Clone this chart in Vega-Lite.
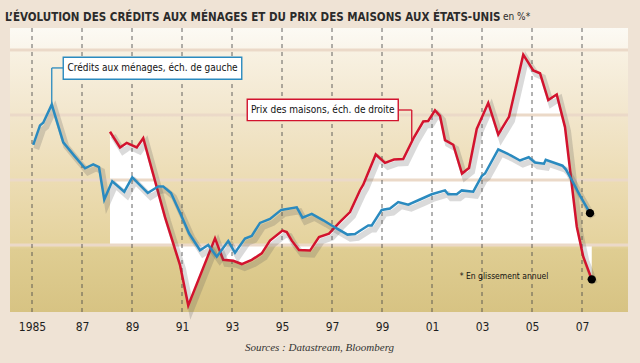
{
  "$schema": "https://vega.github.io/schema/vega-lite/v6.json",
  "width": 618,
  "height": 284,
  "autosize": {"type": "none"},
  "padding": {"left": 10, "top": 28, "right": 12, "bottom": 51},
  "background": "#efe3d5",
  "config": {"view": {"stroke": null}, "font": "DejaVu Sans Condensed, Liberation Sans, sans-serif"},
  "title": {
    "text": "L’ÉVOLUTION DES CRÉDITS AUX MÉNAGES ET DU PRIX DES MAISONS AUX ÉTATS-UNIS",
    "anchor": "start",
    "frame": "group",
    "dx": -5,
    "offset": -20,
    "baseline": "alphabetic",
    "font": "DejaVu Sans Condensed, Liberation Sans, sans-serif",
    "fontSize": 11.5,
    "fontWeight": "bold",
    "color": "#2b2b2b"
  },
  "datasets": {
    "credit": [
      {"year": 1985.05, "value": 12.7}, {"year": 1985.32, "value": 14.2}, {"year": 1985.45, "value": 14.4},
      {"year": 1985.79, "value": 15.8}, {"year": 1986.25, "value": 12.9}, {"year": 1986.72, "value": 11.8},
      {"year": 1987.12, "value": 10.9}, {"year": 1987.45, "value": 11.2}, {"year": 1987.68, "value": 11.0},
      {"year": 1987.89, "value": 8.5}, {"year": 1988.21, "value": 9.9}, {"year": 1988.69, "value": 9.1},
      {"year": 1989.01, "value": 10.2}, {"year": 1989.63, "value": 9.0}, {"year": 1990.05, "value": 9.5},
      {"year": 1990.25, "value": 9.5}, {"year": 1990.56, "value": 9.0}, {"year": 1990.94, "value": 7.4},
      {"year": 1991.28, "value": 5.9}, {"year": 1991.72, "value": 4.6}, {"year": 1992.05, "value": 5.0},
      {"year": 1992.39, "value": 4.1}, {"year": 1992.85, "value": 5.3}, {"year": 1993.12, "value": 4.4},
      {"year": 1993.52, "value": 5.5}, {"year": 1993.79, "value": 5.7}, {"year": 1994.12, "value": 6.7},
      {"year": 1994.52, "value": 7.0}, {"year": 1994.97, "value": 7.7}, {"year": 1995.59, "value": 7.9},
      {"year": 1995.82, "value": 7.1}, {"year": 1996.19, "value": 7.4}, {"year": 1996.65, "value": 6.9},
      {"year": 1997.12, "value": 6.35}, {"year": 1997.62, "value": 5.8}, {"year": 1997.92, "value": 5.85},
      {"year": 1998.12, "value": 6.1}, {"year": 1998.45, "value": 6.5}, {"year": 1998.59, "value": 6.5},
      {"year": 1998.99, "value": 7.7}, {"year": 1999.32, "value": 7.8}, {"year": 1999.65, "value": 8.3},
      {"year": 2000.05, "value": 8.1}, {"year": 2000.52, "value": 8.5}, {"year": 2000.99, "value": 8.9},
      {"year": 2001.52, "value": 9.2}, {"year": 2001.65, "value": 8.9}, {"year": 2001.99, "value": 8.9},
      {"year": 2002.19, "value": 9.2}, {"year": 2002.65, "value": 9.1}, {"year": 2002.99, "value": 10.3},
      {"year": 2003.12, "value": 10.5}, {"year": 2003.65, "value": 12.35}, {"year": 2004.15, "value": 11.9},
      {"year": 2004.52, "value": 11.5}, {"year": 2004.87, "value": 11.75}, {"year": 2005.12, "value": 11.35},
      {"year": 2005.48, "value": 11.25}, {"year": 2005.55, "value": 11.55}, {"year": 2006.22, "value": 11.1},
      {"year": 2006.36, "value": 10.8}, {"year": 2006.59, "value": 10.0}, {"year": 2006.92, "value": 8.8},
      {"year": 2007.32, "value": 7.45}
    ],
    "house": [
      {"year": 1988.12, "value": 12.2}, {"year": 1988.52, "value": 10.5}, {"year": 1988.79, "value": 11.0},
      {"year": 1989.19, "value": 10.5}, {"year": 1989.45, "value": 11.5}, {"year": 1990.32, "value": 3.0},
      {"year": 1990.92, "value": -2.15}, {"year": 1991.25, "value": -6.5}, {"year": 1992.32, "value": 0.72},
      {"year": 1992.65, "value": -1.6}, {"year": 1993.05, "value": -1.7}, {"year": 1993.39, "value": -2.05},
      {"year": 1993.79, "value": -1.6}, {"year": 1994.19, "value": -0.9}, {"year": 1994.52, "value": 0.47},
      {"year": 1995.02, "value": 1.55}, {"year": 1995.19, "value": 1.4}, {"year": 1995.39, "value": 0.47},
      {"year": 1995.68, "value": -0.54}, {"year": 1996.12, "value": -0.6}, {"year": 1996.48, "value": 0.85},
      {"year": 1996.88, "value": 1.23}, {"year": 1997.32, "value": 2.5}, {"year": 1997.72, "value": 3.55},
      {"year": 1998.12, "value": 5.9}, {"year": 1998.25, "value": 6.5}, {"year": 1998.75, "value": 9.75},
      {"year": 1999.12, "value": 8.85}, {"year": 1999.48, "value": 9.2}, {"year": 1999.85, "value": 9.25},
      {"year": 2000.28, "value": 11.6}, {"year": 2000.65, "value": 13.3}, {"year": 2000.85, "value": 13.35},
      {"year": 2001.12, "value": 14.5}, {"year": 2001.32, "value": 13.9}, {"year": 2001.52, "value": 11.3},
      {"year": 2001.85, "value": 10.8}, {"year": 2002.2, "value": 7.7}, {"year": 2002.48, "value": 8.3},
      {"year": 2002.79, "value": 12.5}, {"year": 2003.25, "value": 15.3}, {"year": 2003.65, "value": 11.9},
      {"year": 2004.08, "value": 13.8}, {"year": 2004.65, "value": 20.5}, {"year": 2005.05, "value": 18.8},
      {"year": 2005.32, "value": 18.5}, {"year": 2005.65, "value": 15.6}, {"year": 2005.99, "value": 16.2},
      {"year": 2006.32, "value": 12.7}, {"year": 2006.79, "value": 2.0}, {"year": 2007.05, "value": -1.26},
      {"year": 2007.39, "value": -3.7}
    ]
  },
  "layer": [
    {
      "layer": [
        {
          "data": {"values": [{}]},
          "mark": {
            "type": "rect",
            "fill": {
              "gradient": "linear", "x1": 0, "y1": 0, "x2": 0, "y2": 1,
              "stops": [
                {"offset": 0, "color": "#fcfaf4"},
                {"offset": 0.077, "color": "#faf5ea"},
                {"offset": 0.085, "color": "#f8f1e2"},
                {"offset": 0.31, "color": "#f2e6cc"},
                {"offset": 0.54, "color": "#ecdcb3"},
                {"offset": 0.77, "color": "#e4d29c"},
                {"offset": 0.78, "color": "#dfcd92"},
                {"offset": 1, "color": "#d7c383"}
              ]
            }
          },
          "encoding": {
            "x": {
              "datum": 1984.12, "type": "quantitative",
              "scale": {"domain": [1984.12, 2008.84], "nice": false, "zero": false},
              "axis": {
                "values": [1985, 1987, 1989, 1991, 1993, 1995, 1997, 1999, 2001, 2003, 2005, 2007],
                "labelExpr": "datum.value == 1985 ? '1985' : slice(toString(datum.value), 2)",
                "grid": false, "domain": false, "ticks": false, "tickSize": 0,
                "labelPadding": 9, "labelFlush": false, "labelOverlap": false,
                "labelFont": "DejaVu Sans Condensed, Liberation Sans, sans-serif", "labelFontSize": 12, "labelColor": "#1e1e1e",
                "title": "Sources : Datastream, Bloomberg",
                "titleFont": "Liberation Serif", "titleFontStyle": "italic", "titleFontWeight": "normal",
                "titleFontSize": 11, "titleColor": "#333333", "titlePadding": 9
              }
            },
            "x2": {"datum": 2008.84},
            "y": {
              "datum": -7.215, "type": "quantitative",
              "scale": {"domain": [-7.215, 23.37], "nice": false, "zero": false},
              "axis": {
                "orient": "right", "values": [-7, 0, 7, 14, 21], "title": null,
                "grid": false, "domain": false, "ticks": false, "tickSize": 0,
                "labelAlign": "center", "labelPadding": -15, "labelBaseline": "bottom", "labelOffset": -3,
                "labelFlush": false, "labelOverlap": false,
                "labelFont": "DejaVu Sans Condensed, Liberation Sans, sans-serif", "labelFontSize": 12, "labelColor": "#1e1e1e"
              }
            },
            "y2": {"datum": 23.37}
          }
        },
        {
          "data": {"name": "house"},
          "mark": {"type": "area", "fill": "#ffffff", "opacity": 1},
          "encoding": {
            "x": {"field": "year", "type": "quantitative"},
            "y": {"field": "value", "type": "quantitative"},
            "y2": {"datum": 0}
          }
        },
        {
          "data": {"values": [{"v": 0}, {"v": 7}, {"v": 14}, {"v": 21}]},
          "mark": {"type": "rule", "color": "#ebd9c8", "strokeWidth": 3},
          "encoding": {"y": {"field": "v", "type": "quantitative"}}
        },
        {
          "data": {"values": [{"yr": 1985}, {"yr": 1987}, {"yr": 1989}, {"yr": 1991}, {"yr": 1993}, {"yr": 1995}, {"yr": 1997}, {"yr": 1999}, {"yr": 2001}, {"yr": 2003}, {"yr": 2005}, {"yr": 2007}]},
          "mark": {"type": "rule", "color": "#4a4a4a", "strokeWidth": 1, "strokeDash": [4, 4], "opacity": 0.85},
          "encoding": {"x": {"field": "yr", "type": "quantitative"}}
        },
        {
          "data": {"name": "house"},
          "mark": {"type": "line", "stroke": "#555555", "strokeWidth": 6, "opacity": 0.22, "xOffset": 3, "yOffset": 4},
          "encoding": {
            "x": {"field": "year", "type": "quantitative"},
            "y": {"field": "value", "type": "quantitative"}
          }
        },
        {
          "data": {"name": "house"},
          "mark": {"type": "line", "stroke": "#d2132e", "strokeWidth": 2.5},
          "encoding": {
            "x": {"field": "year", "type": "quantitative"},
            "y": {"field": "value", "type": "quantitative"}
          }
        },
        {
          "data": {"name": "house"},
          "transform": [{"filter": "datum.year > 2007.3"}],
          "mark": {"type": "point", "filled": true, "fill": "#000000", "opacity": 1, "size": 70},
          "encoding": {
            "x": {"field": "year", "type": "quantitative"},
            "y": {"field": "value", "type": "quantitative"}
          }
        },
        {
          "data": {"values": [{"x1": 1999.65, "x2": 2000.19, "y1": 14.54, "y2": 14.54}, {"x1": 2000.19, "x2": 2000.19, "y1": 11.2, "y2": 14.54}]},
          "mark": {"type": "rule", "color": "#d2132e", "strokeWidth": 1.3},
          "encoding": {
            "x": {"field": "x1", "type": "quantitative"}, "x2": {"field": "x2"},
            "y": {"field": "y1", "type": "quantitative"}, "y2": {"field": "y2"}
          }
        },
        {
          "data": {"values": [{"x1": 1993.61, "x2": 1999.65, "y1": 13.39, "y2": 15.69}]},
          "mark": {"type": "rect", "fill": "#ffffff", "stroke": "#d2132e", "strokeWidth": 1.4},
          "encoding": {
            "x": {"field": "x1", "type": "quantitative"}, "x2": {"field": "x2"},
            "y": {"field": "y1", "type": "quantitative"}, "y2": {"field": "y2"}
          }
        },
        {
          "data": {"values": [{"x": 1996.63, "y": 14.54, "t": "Prix des maisons, éch. de droite"}]},
          "mark": {"type": "text", "font": "DejaVu Sans Condensed, Liberation Sans, sans-serif", "fontSize": 10, "color": "#111111", "align": "center", "baseline": "middle"},
          "encoding": {
            "x": {"field": "x", "type": "quantitative"},
            "y": {"field": "y", "type": "quantitative"},
            "text": {"field": "t"}
          }
        }
      ]
    },
    {
      "layer": [
        {
          "data": {"name": "credit"},
          "mark": {"type": "line", "stroke": "#555555", "strokeWidth": 6, "opacity": 0.22, "xOffset": 3, "yOffset": 4},
          "encoding": {
            "x": {"field": "year", "type": "quantitative"},
            "y": {
              "field": "value", "type": "quantitative",
              "scale": {"domain": [-0.154, 21.692], "nice": false, "zero": false},
              "axis": {
                "orient": "left", "values": [0, 5, 10, 15, 20], "title": null,
                "grid": false, "domain": false, "ticks": false, "tickSize": 0,
                "labelAlign": "right", "labelPadding": -15, "labelBaseline": "bottom", "labelOffset": -3,
                "labelFlush": false, "labelOverlap": false,
                "labelFont": "DejaVu Sans Condensed, Liberation Sans, sans-serif", "labelFontSize": 12, "labelColor": "#1e1e1e"
              }
            }
          }
        },
        {
          "data": {"name": "credit"},
          "mark": {"type": "line", "stroke": "#2a8abf", "strokeWidth": 2.5},
          "encoding": {
            "x": {"field": "year", "type": "quantitative"},
            "y": {"field": "value", "type": "quantitative"}
          }
        },
        {
          "data": {"name": "credit"},
          "transform": [{"filter": "datum.year > 2007.3"}],
          "mark": {"type": "point", "filled": true, "fill": "#000000", "opacity": 1, "size": 70},
          "encoding": {
            "x": {"field": "year", "type": "quantitative"},
            "y": {"field": "value", "type": "quantitative"}
          }
        },
        {
          "data": {"values": [{"x1": 1985.79, "x2": 1986.25, "y1": 18.62, "y2": 18.62}, {"x1": 1985.79, "x2": 1985.79, "y1": 15.8, "y2": 18.62}]},
          "mark": {"type": "rule", "color": "#2a8abf", "strokeWidth": 1.3},
          "encoding": {
            "x": {"field": "x1", "type": "quantitative"}, "x2": {"field": "x2"},
            "y": {"field": "y1", "type": "quantitative"}, "y2": {"field": "y2"}
          }
        },
        {
          "data": {"values": [{"x1": 1986.25, "x2": 1993.39, "y1": 17.75, "y2": 19.44}]},
          "mark": {"type": "rect", "fill": "#ffffff", "stroke": "#2a8abf", "strokeWidth": 1.4},
          "encoding": {
            "x": {"field": "x1", "type": "quantitative"}, "x2": {"field": "x2"},
            "y": {"field": "y1", "type": "quantitative"}, "y2": {"field": "y2"}
          }
        },
        {
          "data": {"values": [{"x": 1989.82, "y": 18.62, "t": "Crédits aux ménages, éch. de gauche", "s": 10}, {"x": 2003.88, "y": 2.615, "t": "* En glissement annuel", "s": 8.5}]},
          "mark": {"type": "text", "font": "DejaVu Sans Condensed, Liberation Sans, sans-serif", "color": "#111111", "align": "center", "baseline": "middle"},
          "encoding": {
            "x": {"field": "x", "type": "quantitative"},
            "y": {"field": "y", "type": "quantitative"},
            "text": {"field": "t"},
            "size": {"field": "s", "type": "quantitative", "scale": null}
          }
        },
        {
          "data": {"values": [{"x": 2003.84, "y": 22.27, "t": "en %*"}]},
          "mark": {"type": "text", "font": "DejaVu Sans Condensed, Liberation Sans, sans-serif", "fontSize": 10, "color": "#2b2b2b", "align": "left", "baseline": "alphabetic"},
          "encoding": {
            "x": {"field": "x", "type": "quantitative"},
            "y": {"field": "y", "type": "quantitative"},
            "text": {"field": "t"}
          }
        }
      ]
    }
  ],
  "resolve": {"scale": {"y": "independent"}}
}
